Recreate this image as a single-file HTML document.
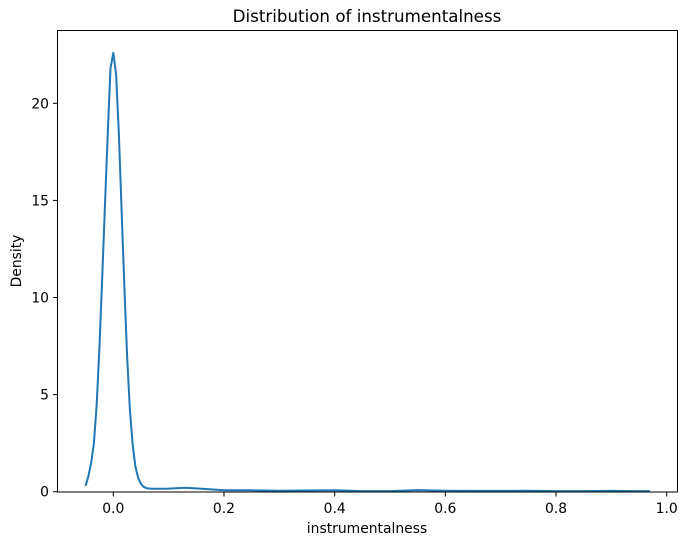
<!DOCTYPE html>
<html><head><meta charset="utf-8"><style>
body{margin:0;background:#fff}
svg text{font-family:"DejaVu Sans","Liberation Sans",sans-serif;fill:#000}
</style></head><body>
<svg id="chart" width="687" height="545" viewBox="0 0 687 545" xmlns="http://www.w3.org/2000/svg">
<rect width="687" height="545" fill="#fff"/>
<text x="367" y="22" font-size="16.7" text-anchor="middle">Distribution of instrumentalness</text>
<text x="367" y="533" font-size="13.9" text-anchor="middle">instrumentalness</text>
<text x="21" y="261" font-size="13.9" text-anchor="middle" transform="rotate(-90 21 261)">Density</text>
<g id="xticks"></g>
<g id="yticks"></g>
<path id="kde" fill="none" stroke="#1f77b4" stroke-width="2" stroke-linejoin="round"/>
<rect x="57.5" y="30.5" width="620" height="461.5" fill="none" stroke="#000" stroke-width="1"/>
</svg>
<script>
const xs=[-0.05,-0.045,-0.04,-0.035,-0.03,-0.025,-0.02,-0.015,-0.01,-0.005,0,0.005,0.01,0.015,0.02,0.025,0.03,0.035,0.04,0.045,0.05,0.055,0.06,0.07,0.1,0.13,0.16,0.2,0.25,0.3,0.35,0.4,0.45,0.5,0.55,0.6,0.65,0.7,0.75,0.8,0.85,0.9,0.95,0.97];
const ys=[0.3,0.8,1.5,2.5,4.5,7.5,11,14.8,18.5,21.8,22.6,21.5,18.5,14.5,10.5,7,4.2,2.4,1.3,0.7,0.4,0.25,0.18,0.15,0.16,0.2,0.15,0.07,0.07,0.05,0.06,0.07,0.03,0.03,0.08,0.05,0.04,0.04,0.05,0.03,0.03,0.04,0.03,0.02];
const xTicks=[0,0.2,0.4,0.6,0.8,1.0];
const xTickLabels=["0.0","0.2","0.4","0.6","0.8","1.0"];
const yTicks=[0,5,10,15,20];
const yTickLabels=["0","5","10","15","20"];
const X=v=>113.3+v*553.4;
const Y=v=>491.7-v*19.42;
const ns="http://www.w3.org/2000/svg";
const gx=document.getElementById('xticks'),gy=document.getElementById('yticks');
xTicks.forEach((t,i)=>{
  const l=document.createElementNS(ns,'line');
  
  
  l.setAttribute('x1',X(t));l.setAttribute('x2',X(t));l.setAttribute('y1',492);l.setAttribute('y2',496.5);l.setAttribute('stroke','#000');
  gx.appendChild(l);
  const tx=document.createElementNS(ns,'text');
  
  
  tx.setAttribute('x',X(t));tx.setAttribute('y',513);tx.setAttribute('font-size','13.9');tx.setAttribute('text-anchor','middle');
  tx.textContent=xTickLabels[i];gx.appendChild(tx);
});
yTicks.forEach((t,i)=>{
  const l=document.createElementNS(ns,'line');
  
  
  l.setAttribute('x1',53);l.setAttribute('x2',57.5);l.setAttribute('y1',Y(t));l.setAttribute('y2',Y(t));l.setAttribute('stroke','#000');
  gy.appendChild(l);
  const tx=document.createElementNS(ns,'text');
  
  
  tx.setAttribute('x',49);tx.setAttribute('y',Y(t)+5);tx.setAttribute('font-size','13.9');tx.setAttribute('text-anchor','end');
  tx.textContent=yTickLabels[i];gy.appendChild(tx);
});
document.getElementById('kde').setAttribute('d',xs.map((x,i)=>(i?'L':'M')+X(x).toFixed(1)+','+Y(ys[i]).toFixed(1)).join(''));
</script>
</body></html>
